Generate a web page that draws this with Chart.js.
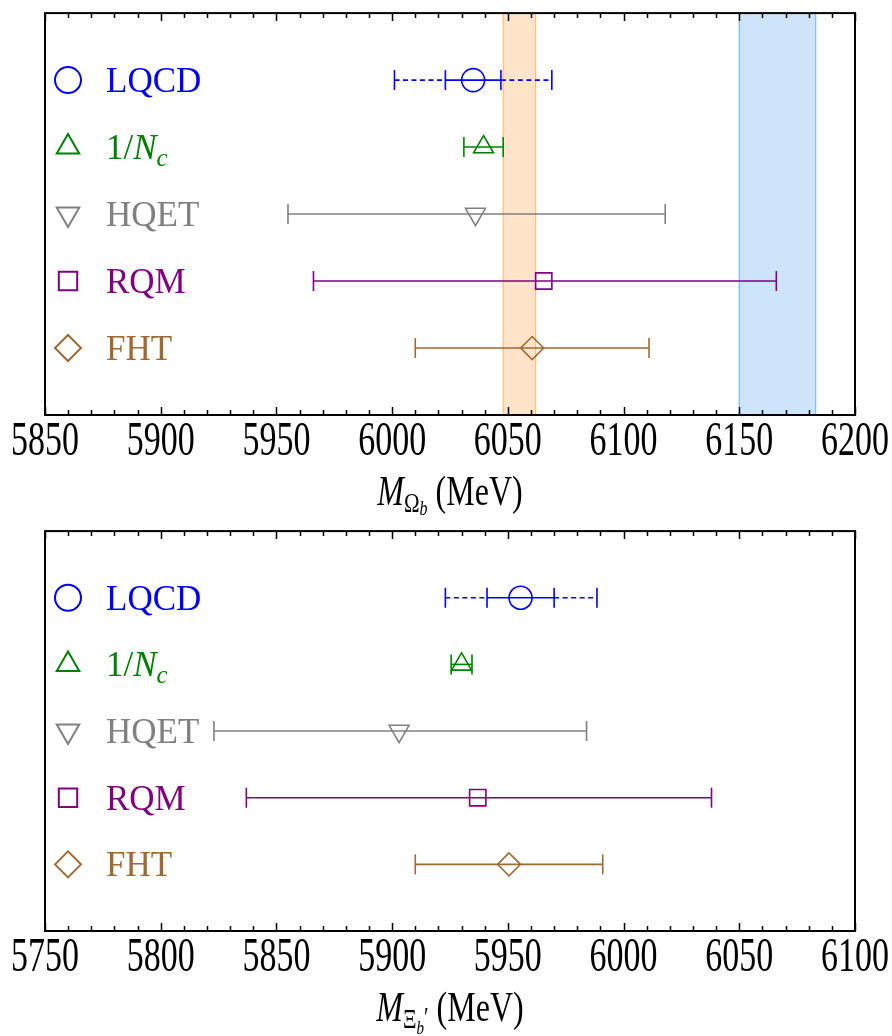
<!DOCTYPE html>
<html>
<head>
<meta charset="utf-8">
<script src="https://cdn.jsdelivr.net/npm/chart.js@4.4.0/dist/chart.umd.min.js"></script>
<style>
  body { margin: 0; background: #fff; }
  canvas { display: block; }
</style>
</head>
<body>
<canvas id="omegaChart" width="892" height="518"></canvas>
<canvas id="xiChart" width="892" height="518"></canvas>
<script>
const models = ['LQCD', '1/Nc', 'HQET', 'RQM', 'FHT'];
const rows = [5, 4, 3, 2, 1];

// Omega_b masses (MeV)
const omegaMass = [6035, 6039.5, 6036, 6065.5, 6060.5];
const omegaLow = [6023, 6031, 5955, 5966, 6010];
const omegaHigh = [6047, 6048, 6118, 6166, 6111];
const omegaLatticeLow = 6001;   // LQCD total error (dashed)
const omegaLatticeHigh = 6069;
const omegaBandLow = [6048, 6150];
const omegaBandHigh = [6062, 6183];
const omegaTicks = [5850, 5900, 5950, 6000, 6050, 6100, 6150, 6200];

// Xi_b' masses (MeV)
const xiMass = [5955.5, 5930, 5903, 5937, 5950.5];
const xiLow = [5941, 5925.5, 5823, 5837, 5910];
const xiHigh = [5970, 5934.5, 5984, 6038, 5991];
const xiLatticeLow = 5923;
const xiLatticeHigh = 5988.5;
const xiTicks = [5750, 5800, 5850, 5900, 5950, 6000, 6050, 6100];

const colors = ['rgb(0,0,255)', 'rgb(0,128,0)', 'rgb(128,128,128)', 'rgb(128,0,128)', 'rgb(160,105,50)'];
const markers = ['circle', 'triangle', 'triangle', 'rect', 'rectRot'];
const markerRotation = [0, 0, 180, 0, 0];
const bandFill = ['rgba(255,165,79,0.3)', 'rgba(100,170,240,0.32)'];
const bandEdge = ['rgb(253,192,125)', 'rgb(130,192,248)'];

const serif = 'Liberation Serif';

function drawRich(ctx, parts, x, y, align) {
  let total = 0;
  parts.forEach(p => {
    ctx.font = (p.italic ? 'italic ' : '') + p.size + 'px "' + serif + '"';
    p.w = ctx.measureText(p.text).width;
    total += p.w;
  });
  let cx = align === 'center' ? x - total / 2 : x;
  ctx.textAlign = 'left';
  ctx.textBaseline = 'alphabetic';
  parts.forEach(p => {
    ctx.font = (p.italic ? 'italic ' : '') + p.size + 'px "' + serif + '"';
    ctx.fillText(p.text, cx, y + (p.dy || 0));
    cx += p.w;
  });
}

function legendParts(i) {
  if (models[i] === '1/Nc') {
    return [
      { text: '1/', size: 35 },
      { text: 'N', size: 35, italic: true },
      { text: 'c', size: 25, italic: true, dy: 7 }
    ];
  }
  return [{ text: models[i], size: 35 }];
}

function panelPlugin(panel) {
  return {
    id: 'panel',
    beforeDatasetsDraw(chart) {
      const { ctx, chartArea: a, scales: { x, y } } = chart;
      ctx.save();
      panel.bandLow.forEach((lo, i) => {
        const x0 = x.getPixelForValue(lo);
        const x1 = x.getPixelForValue(panel.bandHigh[i]);
        ctx.fillStyle = bandFill[i];
        ctx.fillRect(x0, a.top, x1 - x0, a.bottom - a.top);
        ctx.strokeStyle = bandEdge[i];
        ctx.lineWidth = 1.3;
        [x0, x1].forEach(px => {
          ctx.beginPath();
          ctx.moveTo(px, a.top);
          ctx.lineTo(px, a.bottom);
          ctx.stroke();
        });
      });

      const cap = (px, py) => {
        ctx.beginPath();
        ctx.moveTo(px, py - 10);
        ctx.lineTo(px, py + 10);
        ctx.stroke();
      };
      rows.forEach((r, i) => {
        const py = y.getPixelForValue(r);
        const lo = x.getPixelForValue(panel.low[i]);
        const hi = x.getPixelForValue(panel.high[i]);
        ctx.strokeStyle = colors[i];
        ctx.lineWidth = 1.6;
        ctx.setLineDash([]);
        ctx.beginPath();
        ctx.moveTo(lo, py);
        ctx.lineTo(hi, py);
        ctx.stroke();
        cap(lo, py);
        cap(hi, py);
        if (i === 0) {
          const olo = x.getPixelForValue(panel.latticeLow);
          const ohi = x.getPixelForValue(panel.latticeHigh);
          cap(olo, py);
          cap(ohi, py);
          ctx.setLineDash([5, 3.5]);
          ctx.beginPath();
          ctx.moveTo(olo, py);
          ctx.lineTo(lo, py);
          ctx.moveTo(hi, py);
          ctx.lineTo(ohi, py);
          ctx.stroke();
          ctx.setLineDash([]);
        }
      });
      ctx.restore();
    },
    afterDraw(chart) {
      const { ctx, chartArea: a, scales: { x, y } } = chart;
      ctx.save();
      // minor and major ticks, top and bottom, pointing inward
      ctx.strokeStyle = '#000';
      ctx.lineWidth = 1.5;
      for (let v = x.min; v <= x.max; v += 10) {
        const px = Math.round(x.getPixelForValue(v)) + 0.5;
        const len = (v - x.min) % 50 === 0 ? 8 : 5;
        ctx.beginPath();
        ctx.moveTo(px, a.bottom);
        ctx.lineTo(px, a.bottom - len);
        ctx.moveTo(px, a.top);
        ctx.lineTo(px, a.top + len);
        ctx.stroke();
      }
      ctx.lineWidth = 2;
      ctx.strokeRect(a.left, a.top, a.right - a.left, a.bottom - a.top);

      // tick labels: tall, narrow serif numbers like the original
      ctx.fillStyle = '#000';
      ctx.font = '34px "' + serif + '"';
      ctx.textAlign = 'center';
      ctx.textBaseline = 'alphabetic';
      x.ticks.forEach(t => {
        ctx.save();
        ctx.translate(x.getPixelForValue(t.value), a.bottom + 40);
        ctx.scale(1, 1.4);
        ctx.fillText(String(t.value), 0, 0);
        ctx.restore();
      });

      // legend inside the frame, one row per model
      rows.forEach((r, i) => {
        const py = y.getPixelForValue(r);
        ctx.strokeStyle = colors[i];
        ctx.fillStyle = 'rgba(0,0,0,0)';
        Chart.helpers.drawPoint(ctx, {
          pointStyle: markers[i], rotation: markerRotation[i], radius: 13, borderWidth: 1.6
        }, a.left + 23, py);
        ctx.fillStyle = colors[i];
        drawRich(ctx, legendParts(i), a.left + 61, py + 12, 'left');
      });

      // axis title with subscripts
      ctx.fillStyle = '#000';
      ctx.save();
      ctx.translate(0, a.bottom + 90);
      ctx.scale(1, 1.3);
      drawRich(ctx, panel.title, (a.left + a.right) / 2, 0, 'center');
      ctx.restore();
      ctx.restore();
    }
  };
}

function makeChart(canvasId, panel) {
  const datasets = models.map((m, i) => ({
    label: m,
    data: [{ x: panel.mass[i], y: rows[i] }],
    pointStyle: markers[i],
    rotation: markerRotation[i],
    pointRadius: 11.5,
    borderColor: colors[i],
    backgroundColor: 'rgba(0,0,0,0)',
    borderWidth: 1.6,
  }));

  return new Chart(document.getElementById(canvasId).getContext('2d'), {
    type: 'scatter',
    data: { datasets },
    options: {
      responsive: false,
      animation: false,
      layout: { padding: { left: 45, right: 37, top: panel.top, bottom: 0 } },
      plugins: { legend: { display: false }, tooltip: { enabled: false } },
      scales: {
        x: {
          type: 'linear',
          min: panel.min,
          max: panel.max,
          grid: { display: false, drawTicks: false },
          border: { display: false },
          ticks: { display: false },
          afterBuildTicks: scale => {
            scale.ticks = panel.ticks.map(v => ({ value: v }));
          },
          afterFit: scale => {
            scale.height = panel.axisHeight;
            scale.paddingLeft = 0;
            scale.paddingRight = 0;
          },
        },
        y: { display: false, min: 0, max: 6 },
      },
    },
    plugins: [panelPlugin(panel)],
  });
}

makeChart('omegaChart', {
  mass: omegaMass, low: omegaLow, high: omegaHigh,
  latticeLow: omegaLatticeLow, latticeHigh: omegaLatticeHigh,
  bandLow: omegaBandLow, bandHigh: omegaBandHigh, ticks: omegaTicks,
  min: 5850, max: 6200, top: 11, axisHeight: 103,
  title: [
    { text: 'M', size: 32, italic: true },
    { text: 'Ω', size: 21, dy: 5 },
    { text: 'b', size: 16, italic: true, dy: 8 },
    { text: ' (MeV)', size: 32 },
  ],
});

makeChart('xiChart', {
  mass: xiMass, low: xiLow, high: xiHigh,
  latticeLow: xiLatticeLow, latticeHigh: xiLatticeHigh,
  bandLow: [], bandHigh: [], ticks: xiTicks,
  min: 5750, max: 6100, top: 8, axisHeight: 105,
  title: [
    { text: 'M', size: 32, italic: true },
    { text: 'Ξ', size: 21, dy: 5 },
    { text: 'b', size: 15, italic: true, dy: 10 },
    { text: '′', size: 21, dy: 4 },
    { text: ' (MeV)', size: 32 },
  ],
});
</script>
</body>
</html>
